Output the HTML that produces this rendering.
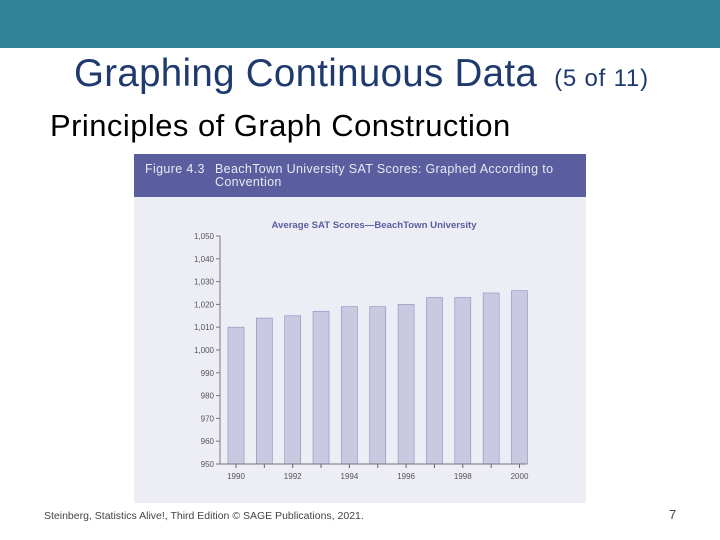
<!DOCTYPE html>
<html><head><meta charset="utf-8"><style>
body{margin:0;width:720px;height:540px;background:#fff;position:relative;overflow:hidden;font-family:"Liberation Sans",sans-serif}
.abs{position:absolute;white-space:nowrap}
</style></head><body>
<div class="abs" style="left:0;top:0;width:720px;height:48px;background:#2e8399"></div>
<div class="abs" style="left:74px;top:52px;font-size:38.5px;line-height:44px;color:#1f3a6e;letter-spacing:0.3px">Graphing Continuous Data <span style="font-size:24px;letter-spacing:0.8px;margin-left:6px">(5 of 11)</span></div>
<div class="abs" style="left:50px;top:108px;font-size:31px;line-height:36px;color:#000;letter-spacing:0.45px">Principles of Graph Construction</div>
<div class="abs" style="left:134px;top:154px;width:452px;height:43px;background:#5a5e9f;color:#e8e9f5;font-size:12.5px;line-height:13px;letter-spacing:0.35px">
<div class="abs" style="left:11px;top:9px">Figure 4.3</div>
<div class="abs" style="left:81px;top:9px">BeachTown University SAT Scores: Graphed According to<br>Convention</div>
</div>
<svg class="abs" style="left:134px;top:197px" width="452" height="306">
<rect width="452" height="306" fill="#ecedf5"/>
<g id="g"></g>
</svg>
<div class="abs" style="left:44px;top:510px;font-size:10.5px;color:#444">Steinberg, Statistics Alive!, Third Edition © SAGE Publications, 2021.</div>
<div class="abs" style="left:669px;top:507px;font-size:13px;color:#444">7</div>
<script>
const years=[1990,1991,1992,1993,1994,1995,1996,1997,1998,1999,2000];
const scores=[1010,1014,1015,1017,1019,1019,1020,1023,1023,1025,1026];
const yTicks=[950,960,970,980,990,1000,1010,1020,1030,1040,1050];
const xLabels=[1990,1992,1994,1996,1998,2000];
const ox=134,oy=197;
const y=v=>464-oy-(v-950)*2.28;
const x=yr=>236-ox+(yr-1990)*28.35;
const g=document.getElementById('g');const NS='http://www.w3.org/2000/svg';
function mk(t,a){const e=document.createElementNS(NS,t);for(const k in a)e.setAttribute(k,a[k]);g.appendChild(e);return e;}
const title=mk('text',{x:240,y:31,'text-anchor':'middle','font-size':9.6,'font-weight':'bold',fill:'#5a5e9f','font-family':'Liberation Sans, sans-serif'});
title.textContent='Average SAT Scores—BeachTown University';


years.forEach((yr,i)=>{
 const r=mk('rect',{x:x(yr)-8,y:y(scores[i]),width:16,height:y(950)-y(scores[i]),fill:'#c9cae2',stroke:'#8a8cb8','stroke-width':0.6});
 
 
 mk('line',{x1:x(yr),x2:x(yr),y1:y(950),y2:y(950)+4,stroke:'#666'});
});
mk('line',{x1:86,x2:86,y1:y(1050),y2:y(950),stroke:'#777'});
mk('line',{x1:86,x2:393,y1:y(950),y2:y(950),stroke:'#777'});
yTicks.forEach(v=>{
 mk('line',{x1:82,x2:86,y1:y(v),y2:y(v),stroke:'#777'});
 const t=mk('text',{x:80,y:y(v)+3,'text-anchor':'end','font-size':8,fill:'#555','font-family':'Liberation Sans, sans-serif'});
 t.textContent=v.toLocaleString('en-US');
 
 
});
xLabels.forEach(v=>{
 const t=mk('text',{x:x(v),y:y(950)+15,'text-anchor':'middle','font-size':8,fill:'#555','font-family':'Liberation Sans, sans-serif'});
 t.textContent=v;
 
 
});
</script>
</body></html>
